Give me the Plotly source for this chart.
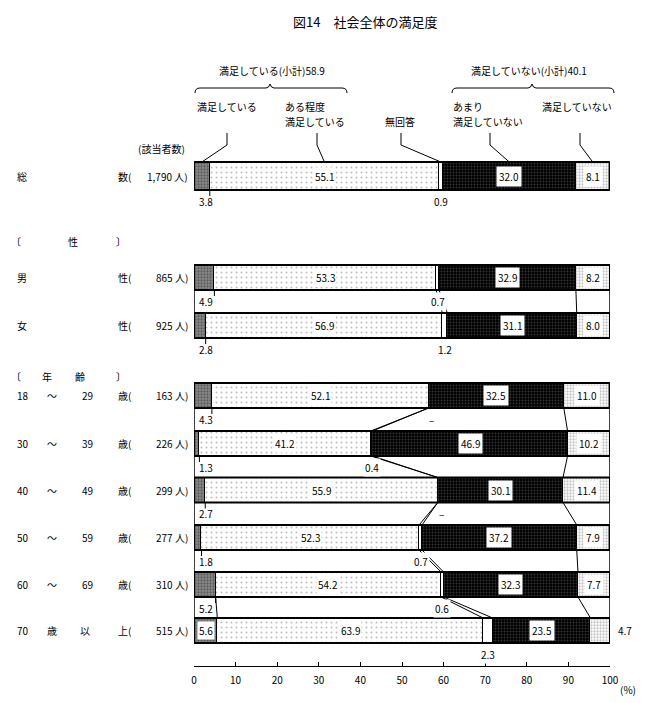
import plotly.graph_objects as go

# ---------------- data ----------------
categories = ["満足している", "ある程度満足している", "無回答", "あまり満足していない", "満足していない"]
rows = ["総数", "男性", "女性", "18～29歳", "30～39歳", "40～49歳", "50～59歳", "60～69歳", "70歳以上"]
counts = ["1,790", "865", "925", "163", "226", "299", "277", "310", "515"]
satisfied = [3.8, 4.9, 2.8, 4.3, 1.3, 2.7, 1.8, 5.2, 5.6]
somewhat = [55.1, 53.3, 56.9, 52.1, 41.2, 55.9, 52.3, 54.2, 63.9]
no_answer = [0.9, 0.7, 1.2, 0.0, 0.4, 0.0, 0.7, 0.6, 2.3]
not_very = [32.0, 32.9, 31.1, 32.5, 46.9, 30.1, 37.2, 32.3, 23.5]
not_satisfied = [8.1, 8.2, 8.0, 11.0, 10.2, 11.4, 7.9, 7.7, 4.7]
subtotal_sat = 58.9
subtotal_not = 40.1
tick_vals = [0, 10, 20, 30, 40, 50, 60, 70, 80, 90, 100]

# ---------------- layout constants (pixels) ----------------
W, H = 653, 703
X0, X1 = 194, 610
row_y = [176, 277.5, 325.5, 395.5, 443.5, 490, 537.5, 584.5, 630.5]
row_h = [28, 25, 25, 25, 25, 25, 25, 25, 25]
groups = [[1, 2], [3, 4, 5, 6, 7, 8]]
FONT = "Noto Sans CJK JP"

def px(x):
    return x / W

def data_px(v):
    return X0 + (X1 - X0) * v / 100

series = [satisfied, somewhat, no_answer, not_very, not_satisfied]
styles = [
    dict(color="#8c8c8c", pattern=dict(shape=".", bgcolor="#8c8c8c", fgcolor="#2a2a2a", size=3, solidity=0.45)),
    dict(color="#ffffff", pattern=dict(shape=".", bgcolor="#ffffff", fgcolor="#7a7a7a", size=5, solidity=0.12)),
    dict(color="#ffffff"),
    dict(color="#000000", pattern=dict(shape=".", bgcolor="#000000", fgcolor="#6a6a6a", size=3, solidity=0.3)),
    dict(color="#ffffff", pattern=dict(shape=".", bgcolor="#ffffff", fgcolor="#8c8c8c", size=3, solidity=0.45)),
]

fig = go.Figure()
for name, vals, st in zip(categories, series, styles):
    fig.add_trace(go.Bar(
        name=name, x=vals, y=row_y, width=row_h, orientation="h",
        marker=dict(line=dict(color="black", width=1), **st),
        showlegend=False, hoverinfo="x+name",
    ))

# cumulative boundaries
n = len(rows)
cum1 = [satisfied[i] for i in range(n)]
cum2 = [cum1[i] + somewhat[i] for i in range(n)]
cum3 = [cum2[i] + no_answer[i] for i in range(n)]
cum4 = [cum3[i] + not_very[i] for i in range(n)]
cum5 = [cum4[i] + not_satisfied[i] for i in range(n)]

shapes = []
ann = []

def txt(x, y, s, size=10, xanchor="center", xref="paper", yanchor="middle", bg=None, pad=1, align="left"):
    d = dict(x=x, y=y, xref=xref, yref="y", text=s, showarrow=False,
             xanchor=xanchor, yanchor=yanchor, align=align,
             font=dict(family=FONT, size=size, color="black"))
    if bg:
        d.update(bgcolor=bg, borderpad=pad)
    ann.append(d)

# group frames (white boxes behind the bars)
for g in groups:
    top = row_y[g[0]] - row_h[g[0]] / 2
    bot = row_y[g[-1]] + row_h[g[-1]] / 2
    shapes.append(dict(type="rect", xref="x", yref="y", x0=0, x1=100, y0=top, y1=bot,
                       line=dict(color="black", width=1.5), fillcolor="white", layer="below"))

# outer bar borders
for i in range(n):
    shapes.append(dict(type="rect", xref="x", yref="y", x0=0, x1=cum5[i],
                       y0=row_y[i] - row_h[i] / 2, y1=row_y[i] + row_h[i] / 2,
                       line=dict(color="black", width=2)))

# connecting lines between consecutive bars in a group
for g in groups:
    for a, b in zip(g[:-1], g[1:]):
        ya = row_y[a] + row_h[a] / 2
        yb = row_y[b] - row_h[b] / 2
        for cum in (cum2, cum3, cum4):
            shapes.append(dict(type="line", xref="x", yref="y", x0=cum[a], x1=cum[b], y0=ya, y1=yb,
                               line=dict(color="black", width=1)))
        if abs(cum1[a] - cum1[b]) < 0.6:
            shapes.append(dict(type="line", xref="x", yref="y", x0=cum1[a], x1=cum1[b], y0=ya, y1=yb,
                               line=dict(color="black", width=1)))

# value labels
for i in range(n):
    yc = row_y[i]
    ybelow = yc + row_h[i] / 2 + 11
    if satisfied[i] >= 5.5:
        txt(satisfied[i] / 2, yc, f"{satisfied[i]:.1f}", xref="x", bg="white")
    else:
        txt(0.7, ybelow, f"{satisfied[i]:.1f}", xref="x", xanchor="left")
        shapes.append(dict(type="line", xref="x", yref="y", x0=satisfied[i], x1=satisfied[i],
                           y0=yc + row_h[i] / 2, y1=yc + row_h[i] / 2 + 6, line=dict(color="black", width=1)))
    txt(cum1[i] + somewhat[i] / 2, yc, f"{somewhat[i]:.1f}", xref="x", bg="white")
    s = "–" if no_answer[i] == 0 else f"{no_answer[i]:.1f}"
    xna = cum2[i] + no_answer[i] / 2 + (0.8 if no_answer[i] == 0 else 0)
    txt(xna, ybelow, s, xref="x", bg="white")
    txt(cum3[i] + not_very[i] / 2, yc, f"{not_very[i]:.1f}", xref="x", bg="white", pad=2)
    if not_satisfied[i] >= 5.5:
        txt(cum4[i] + not_satisfied[i] / 2, yc, f"{not_satisfied[i]:.1f}", xref="x", bg="white", pad=2)
    else:
        txt(px(data_px(cum5[i]) + 6), yc, f"{not_satisfied[i]:.1f}", xanchor="left")

# row labels (left)
left_parts = [
    [("総", 15, "left"), ("数(", 116, "left")],
    [("男", 15, "left"), ("性(", 116, "left")],
    [("女", 15, "left"), ("性(", 116, "left")],
    [("18", 15, "left"), ("～", 52, "center"), ("29", 80, "left"), ("歳(", 116, "left")],
    [("30", 15, "left"), ("～", 52, "center"), ("39", 80, "left"), ("歳(", 116, "left")],
    [("40", 15, "left"), ("～", 52, "center"), ("49", 80, "left"), ("歳(", 116, "left")],
    [("50", 15, "left"), ("～", 52, "center"), ("59", 80, "left"), ("歳(", 116, "left")],
    [("60", 15, "left"), ("～", 52, "center"), ("69", 80, "left"), ("歳(", 116, "left")],
    [("70", 15, "left"), ("歳", 52, "center"), ("以", 85, "center"), ("上(", 116, "left")],
]
for i in range(n):
    for s, x, anc in left_parts[i]:
        txt(px(x), row_y[i], s, xanchor=anc)
    txt(px(190), row_y[i], f"{counts[i]} 人)", xanchor="right")

txt(px(187), 148, "(該当者数)", xanchor="right")
for s, x in [("〔", 16), ("性", 73), ("〕", 121)]:
    txt(px(x), 241, s)
for s, x in [("〔", 16), ("年", 47), ("齢", 80), ("〕", 121)]:
    txt(px(x), 376, s)

# header
txt(px(365), 21, "図14　社会全体の満足度", size=13)
txt(px(272), 70, f"満足している(小計){subtotal_sat}")
txt(px(529), 70, f"満足していない(小計){subtotal_not}")

def brace(xa, xm, xb, y=88):
    return (f"M {px(xa)},{y+5} Q {px(xa)},{y} {px(xa+5)},{y} L {px(xm-4)},{y} "
            f"Q {px(xm-1)},{y} {px(xm)},{y-4} Q {px(xm+1)},{y} {px(xm+4)},{y} "
            f"L {px(xb-5)},{y} Q {px(xb)},{y} {px(xb)},{y+5}")

for xa, xm, xb in [(195, 270, 347), (452, 532, 614)]:
    shapes.append(dict(type="path", xref="paper", yref="y", path=brace(xa, xm, xb),
                       line=dict(color="black", width=1)))

txt(px(195), 106, "満足している", xanchor="left")
txt(px(283), 106, "ある程度", xanchor="left")
txt(px(283), 121, "満足している", xanchor="left")
txt(px(383), 121, "無回答", xanchor="left")
txt(px(451), 106, "あまり", xanchor="left")
txt(px(451), 121, "満足していない", xanchor="left")
txt(px(540), 106, "満足していない", xanchor="left")

# leader lines from header labels to the total bar
centers0 = [satisfied[0] / 2, cum1[0] + somewhat[0] / 2, cum2[0] + no_answer[0] / 2,
            cum3[0] + not_very[0] / 2, cum4[0] + not_satisfied[0] / 2]
lead_x = [227, 317, 401, 490, 580]
bar_top0 = row_y[0] - row_h[0] / 2
for lx, cx in zip(lead_x, centers0):
    shapes.append(dict(type="line", xref="paper", yref="y", x0=px(lx), x1=px(lx), y0=133, y1=145,
                       line=dict(color="black", width=1)))
    shapes.append(dict(type="line", xref="paper", yref="y", x0=px(lx), x1=px(data_px(cx)), y0=145, y1=bar_top0,
                       line=dict(color="black", width=1)))

txt(px(628), 689, "(%)")

fig.update_layout(
    width=W, height=H, autosize=False, barmode="stack", bargap=0,
    margin=dict(l=0, r=0, t=0, b=0, autoexpand=False),
    paper_bgcolor="white", plot_bgcolor="rgba(0,0,0,0)",
    font=dict(family=FONT, size=10, color="black"),
    xaxis=dict(domain=[X0 / W, X1 / W], range=[0, 100], anchor="free", position=(H - 666) / H,
               showline=True, linecolor="black", linewidth=1, ticks="inside", ticklen=4,
               tickcolor="black", tickvals=tick_vals, showgrid=False, zeroline=False,
               ticklabelstandoff=5,
               tickfont=dict(family=FONT, size=10, color="black"), fixedrange=True),
    yaxis=dict(domain=[0, 1], range=[H, 0], visible=False, fixedrange=True),
    shapes=shapes, annotations=ann,
)

fig.write_html(
    "out.html",
    config={"displayModeBar": False, "responsive": False},
    post_script=(
        "document.documentElement.style.overflow='hidden';"
        "document.body.style.margin='0px';document.body.style.overflow='hidden';"
        "var gd=document.getElementById('{plot_id}');"
        "Plotly.relayout(gd,{width:%d,height:%d});" % (W, H)
    ),
)
